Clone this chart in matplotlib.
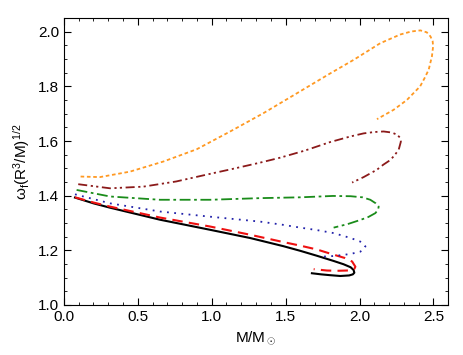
import matplotlib
matplotlib.use('Agg')
import matplotlib.pyplot as plt
from matplotlib.ticker import MultipleLocator

plt.rcParams['font.family'] = ['Liberation Sans', 'DejaVu Sans']
plt.rcParams['mathtext.fontset'] = 'custom'
plt.rcParams['mathtext.rm'] = 'Liberation Sans'
plt.rcParams['mathtext.it'] = 'Liberation Sans:italic'

# curves (mass, omega_f * sqrt(R^3/M))
m_black = [0.075, 0.2, 0.312, 0.65, 0.99, 1.26, 1.486, 1.60, 1.712, 1.825, 1.892, 1.94, 1.96, 1.965,
           1.955, 1.93, 1.87, 1.80, 1.74, 1.678]
w_black = [1.393, 1.372, 1.356, 1.312, 1.275, 1.245, 1.215, 1.198, 1.180, 1.161, 1.149, 1.138, 1.128, 1.118,
           1.112, 1.108, 1.106, 1.109, 1.112, 1.116]

m_red = [0.075, 0.2, 0.312, 0.65, 0.99, 1.26, 1.486, 1.60, 1.712, 1.825, 1.90, 1.95, 1.972, 1.965,
         1.94, 1.915, 1.85, 1.78, 1.69]
w_red = [1.394, 1.375, 1.360, 1.320, 1.287, 1.257, 1.230, 1.217, 1.203, 1.184, 1.172, 1.159, 1.140, 1.132,
         1.128, 1.126, 1.125, 1.126, 1.131]

m_blue = [0.075, 0.312, 0.65, 0.99, 1.328, 1.486, 1.60, 1.712, 1.825, 1.94, 2.005, 2.03, 2.04,
          2.03, 2.005, 1.95, 1.892, 1.82, 1.757]
w_blue = [1.405, 1.372, 1.342, 1.323, 1.305, 1.293, 1.283, 1.274, 1.263, 1.245, 1.232, 1.223, 1.214,
          1.204, 1.195, 1.188, 1.183, 1.179, 1.177]

m_green = [0.086, 0.312, 0.65, 0.99, 1.328, 1.60, 1.82, 1.94, 2.02, 2.073, 2.11, 2.13, 2.125,
           2.107, 2.06, 2.005, 1.92, 1.825]
w_green = [1.421, 1.397, 1.385, 1.385, 1.391, 1.394, 1.399, 1.398, 1.394, 1.385, 1.372, 1.360, 1.348,
           1.336, 1.322, 1.311, 1.296, 1.283]

m_dred = [0.097, 0.312, 0.537, 0.76, 0.99, 1.125, 1.328, 1.463, 1.63, 1.80, 1.94, 2.028, 2.10,
          2.163, 2.22, 2.254, 2.275, 2.28, 2.265, 2.24, 2.21, 2.16, 2.118, 2.028, 1.95]
w_dred = [1.442, 1.427, 1.433, 1.452, 1.480, 1.496, 1.521, 1.539, 1.565, 1.596, 1.617, 1.628, 1.633,
          1.635, 1.631, 1.623, 1.612, 1.598, 1.568, 1.550, 1.531, 1.513, 1.495, 1.468, 1.448]

m_orange = [0.113, 0.244, 0.447, 0.673, 0.899, 1.125, 1.35, 1.577, 1.80, 1.96, 2.14, 2.276, 2.35,
            2.412, 2.455, 2.48, 2.495, 2.498, 2.49, 2.468, 2.44, 2.41, 2.32, 2.23, 2.118]
w_orange = [1.470, 1.468, 1.488, 1.525, 1.570, 1.635, 1.702, 1.775, 1.847, 1.897, 1.958, 1.990, 2.001,
            2.005, 1.998, 1.983, 1.965, 1.946, 1.910, 1.861, 1.830, 1.800, 1.750, 1.714, 1.680]

fig = plt.figure(figsize=(4.63, 3.55), dpi=100)
ax = fig.add_axes([0.138, 0.141, 0.830, 0.808])

ax.plot(m_black, w_black, color='black', lw=1.5, ls='-')
ax.plot(m_red, w_red, color='#ee1111', lw=1.5, ls=(0, (5, 3)))
ax.plot(m_blue, w_blue, color='#2222aa', lw=1.3, ls=(0, (1, 3)))
ax.plot(m_green, w_green, color='#1a8c1a', lw=1.3, ls=(0, (6, 2, 1.5, 2)))
ax.plot(m_dred, w_dred, color='#8b1a1a', lw=1.3, ls=(0, (5, 2, 1.2, 1.8, 1.2, 2)))
ax.plot(m_orange, w_orange, color='#ff9922', lw=1.3, ls=(0, (2, 1.5)))

ax.set_xlim(0, 2.6)
ax.set_ylim(1.0, 2.05)
ax.xaxis.set_major_locator(MultipleLocator(0.5))
ax.xaxis.set_minor_locator(MultipleLocator(0.1))
ax.yaxis.set_major_locator(MultipleLocator(0.2))
ax.yaxis.set_minor_locator(MultipleLocator(0.05))
ax.tick_params(which='both', direction='in', top=True, right=True, labelsize=11)
ax.tick_params(which='major', length=5)
ax.tick_params(which='minor', length=2.5)
ax.xaxis.set_major_formatter(plt.FormatStrFormatter('%.1f'))
ax.yaxis.set_major_formatter(plt.FormatStrFormatter('%.1f'))

ax.set_xlabel(r'M/M$_\odot$', fontsize=11)
ax.set_ylabel(r'$\mathrm{\omega_f(R^3/M)^{1/2}}$', fontsize=11)

fig.savefig('out.png', dpi=100)
